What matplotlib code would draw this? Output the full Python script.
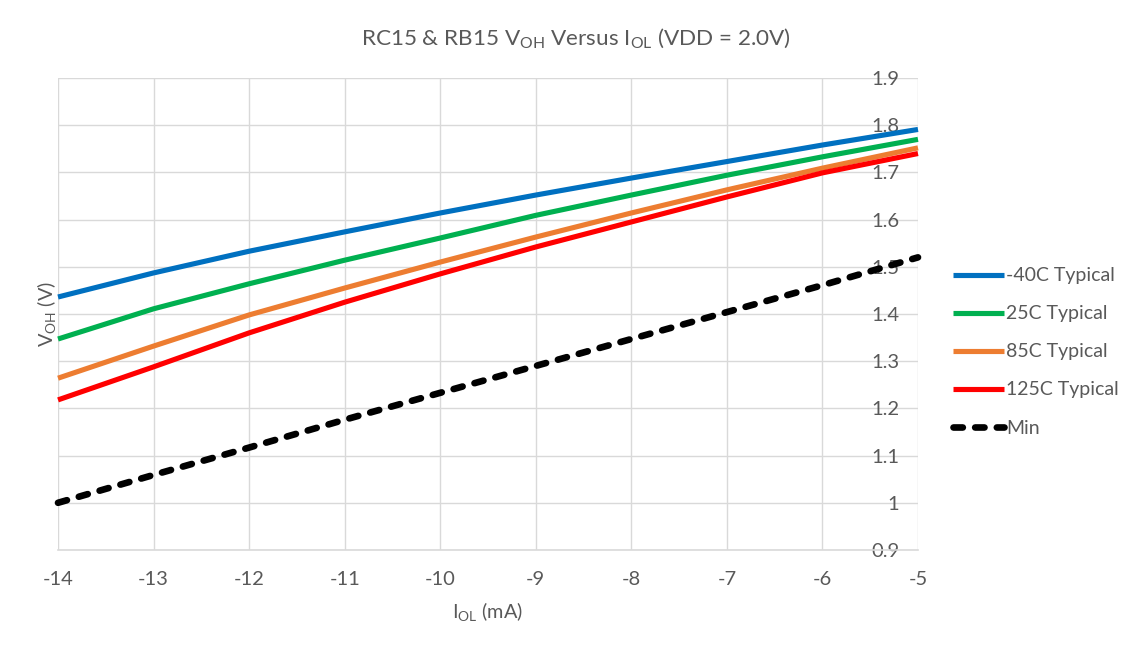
import matplotlib
matplotlib.use("Agg")
from matplotlib import pyplot as plt

plt.rcParams['font.family'] = ['Lato', 'DejaVu Sans']
plt.rcParams['mathtext.fontset'] = 'custom'
plt.rcParams['mathtext.rm'] = 'Lato'
plt.rcParams['mathtext.it'] = 'Lato'
plt.rcParams['mathtext.default'] = 'rm'

# data
iol = [-14, -13, -12, -11, -10, -9, -8, -7, -6, -5]
v_m40 = [1.436, 1.487, 1.533, 1.574, 1.614, 1.652, 1.688, 1.723, 1.758, 1.791]
v_25 = [1.347, 1.411, 1.464, 1.514, 1.561, 1.609, 1.652, 1.694, 1.733, 1.770]
v_85 = [1.264, 1.332, 1.398, 1.455, 1.510, 1.563, 1.614, 1.663, 1.709, 1.752]
v_125 = [1.218, 1.288, 1.360, 1.425, 1.485, 1.542, 1.595, 1.648, 1.699, 1.740]
v_min = [1.000, 1.059, 1.117, 1.176, 1.233, 1.290, 1.347, 1.404, 1.461, 1.520]

labels = ["-40C Typical", "25C Typical", "85C Typical", "125C Typical", "Min"]
colors = ["#0070c0", "#00b050", "#ed7d31", "#ff0000", "#000000"]
xticks = [-14, -13, -12, -11, -10, -9, -8, -7, -6, -5]
yticks = [0.9, 1.0, 1.1, 1.2, 1.3, 1.4, 1.5, 1.6, 1.7, 1.8, 1.9]
ytick_labels = ["0.9", "1", "1.1", "1.2", "1.3", "1.4", "1.5", "1.6", "1.7", "1.8", "1.9"]

txt = "#595959"
grid = "#d9d9d9"

fig = plt.figure(figsize=(11.36, 6.45), dpi=100)
ax = fig.add_axes([58/1136, 95/645, 860/1136, 472/645])

series = [v_m40, v_25, v_85, v_125, v_min]
for vals, lab, col in zip(series, labels, colors):
    if lab == "Min":
        ax.plot(iol, vals, color=col, lw=4.8, label=lab, linestyle=(0, (1.4, 1.85)),
                dash_capstyle='round', clip_on=False, zorder=3)
    else:
        ax.plot(iol, vals, color=col, lw=3.7, label=lab, solid_capstyle='butt',
                clip_on=False, zorder=3)

ax.set_xlim(-14, -5)
ax.set_ylim(0.9, 1.9)
ax.set_xticks(xticks)
ax.set_xticklabels([str(x) for x in xticks])
ax.set_yticks(yticks)
ax.set_yticklabels(ytick_labels)
ax.grid(True, color=grid, lw=1)
ax.set_axisbelow(True)
for s in ax.spines.values():
    s.set_visible(False)
ax.spines['bottom'].set_visible(True)
ax.spines['bottom'].set_color(grid)
ax.spines['bottom'].set_linewidth(1.2)

ax.tick_params(axis='x', length=0, pad=15, labelsize=14.5, labelcolor=txt)
ax.tick_params(axis='y', left=False, right=False, labelleft=False, labelright=True,
               pad=-17, labelsize=14.5, labelcolor=txt)
plt.setp(ax.get_yticklabels(), ha='right')

ax.set_xlabel(r"I$_{\mathrm{OL}}$ (mA)", fontsize=14.3, color=txt, labelpad=9)
ax.set_ylabel(r"V$_{\mathrm{OH}}$ (V)", fontsize=14.3, color=txt, labelpad=0)

fig.text(576/1136, 1 - 38/645,
         r"RC15 & RB15 V$_{\mathrm{OH}}$ Versus I$_{\mathrm{OL}}$ (VDD = 2.0V)",
         fontsize=16.2, color=txt, ha='center', va='center')

fig.legend(loc='center left', bbox_to_anchor=(953/1136, 1 - 352/645), frameon=False,
           fontsize=14, labelcolor=txt, handlelength=2.6, handletextpad=0.15,
           labelspacing=1.08, borderpad=0, borderaxespad=0)

fig.savefig("out.png", dpi=100)
